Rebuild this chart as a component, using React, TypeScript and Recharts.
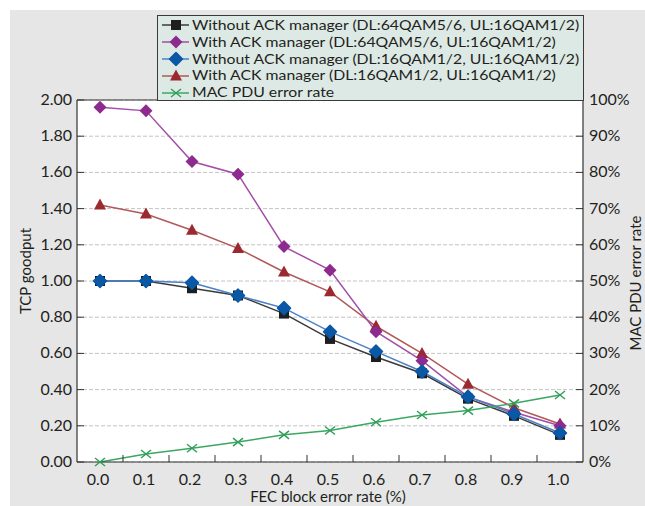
import React from 'react';
import { LineChart, Line, XAxis, YAxis, CartesianGrid, ReferenceLine, Label } from 'recharts';

const categories = ['0.0', '0.1', '0.2', '0.3', '0.4', '0.5', '0.6', '0.7', '0.8', '0.9', '1.0'];
const withoutAck64 = [1.0, 1.0, 0.96, 0.92, 0.82, 0.68, 0.58, 0.49, 0.35, 0.255, 0.15];
const withAck64 = [1.96, 1.94, 1.66, 1.59, 1.19, 1.06, 0.72, 0.56, 0.36, 0.275, 0.2];
const withoutAck16 = [1.0, 1.0, 0.99, 0.92, 0.85, 0.72, 0.61, 0.5, 0.36, 0.265, 0.16];
const withAck16 = [1.42, 1.37, 1.28, 1.18, 1.05, 0.94, 0.75, 0.6, 0.43, 0.3, 0.21];
const macPduErrorRate = [0.0, 0.022, 0.038, 0.055, 0.075, 0.087, 0.11, 0.13, 0.142, 0.162, 0.185];
const leftTicks = [0, 0.2, 0.4, 0.6, 0.8, 1.0, 1.2, 1.4, 1.6, 1.8, 2.0];
const rightTicks = [0, 0.1, 0.2, 0.3, 0.4, 0.5, 0.6, 0.7, 0.8, 0.9, 1.0];

const seriesNames = [
  'Without ACK manager (DL:64QAM5/6, UL:16QAM1/2)',
  'With ACK manager (DL:64QAM5/6, UL:16QAM1/2)',
  'Without ACK manager (DL:16QAM1/2, UL:16QAM1/2)',
  'With ACK manager (DL:16QAM1/2, UL:16QAM1/2)',
  'MAC PDU error rate',
];

const data = categories.map((c, i) => ({
  x: c,
  s0: withoutAck64[i],
  s1: withAck64[i],
  s2: withoutAck16[i],
  s3: withAck16[i],
  s4: macPduErrorRate[i],
}));

const FONT = 'Lato, "Open Sans", sans-serif';
const TEXT = '#231f20';

const C = {
  s0: { line: '#3a3a3a', mark: '#1e1e1e' },
  s1: { line: '#a24ea6', mark: '#8c2a90' },
  s2: { line: '#4a80c6', mark: '#0a58a6' },
  s3: { line: '#b25858', mark: '#9a2a30' },
  s4: { line: '#3aa862', mark: '#2e9e58' },
};

function marker(kind: string, cx: number, cy: number, key?: string) {
  if (kind === 's0') return <rect key={key} x={cx - 5} y={cy - 5} width={10} height={10} fill={C.s0.mark} />;
  if (kind === 's1') return <polygon key={key} points={`${cx},${cy - 6.5} ${cx + 6.5},${cy} ${cx},${cy + 6.5} ${cx - 6.5},${cy}`} fill={C.s1.mark} />;
  if (kind === 's2') return <polygon key={key} points={`${cx},${cy - 6.5} ${cx + 6.5},${cy} ${cx},${cy + 6.5} ${cx - 6.5},${cy}`} fill={C.s2.mark} stroke={C.s2.mark} strokeWidth={1.5} strokeLinejoin="round" />;
  if (kind === 's3') return <polygon key={key} points={`${cx},${cy - 6.5} ${cx + 6},${cy + 4.5} ${cx - 6},${cy + 4.5}`} fill={C.s3.mark} />;
  return (
    <g key={key} stroke={C.s4.mark} strokeWidth={1.4}>
      <line x1={cx - 5} y1={cy - 4} x2={cx + 5} y2={cy + 4} />
      <line x1={cx - 5} y1={cy + 4} x2={cx + 5} y2={cy - 4} />
    </g>
  );
}

const dotFor = (kind: string) => (p: any) => {
  if (p.cx == null || p.cy == null || p.value == null) return <g key={`${kind}-${p.index}`} />;
  return marker(kind, p.cx, p.cy, `${kind}-${p.index}`);
};

const LeftTick = (p: any) => {
  const { x, y, payload } = p;
  return (
    <g>
      <line x1={x} y1={y} x2={x + 7} y2={y} stroke="#333" strokeWidth={1} />
      <text x={x - 5} y={y} dy={5} textAnchor="end" fill={TEXT} fontSize={16} fontFamily={FONT}>
        {Number(payload.value).toFixed(2)}
      </text>
    </g>
  );
};

const RightTick = (p: any) => {
  const { x, y, payload } = p;
  return (
    <g>
      <line x1={x} y1={y} x2={x - 7} y2={y} stroke="#333" strokeWidth={1} />
      <text x={x + 6} y={y} dy={5} textAnchor="start" fill={TEXT} fontSize={16} fontFamily={FONT}>
        {`${Math.round(Number(payload.value) * 100)}%`}
      </text>
    </g>
  );
};

const BottomTick = (p: any) => {
  const { x, y, payload, index } = p;
  const half = payload && payload.offset ? payload.offset : 23;
  return (
    <g>
      {index < categories.length - 1 && (
        <line x1={x + half} y1={y} x2={x + half} y2={y - 7} stroke="#333" strokeWidth={1} />
      )}
      <text x={x - 2} y={y} dy={23} textAnchor="middle" fill={TEXT} fontSize={16} fontFamily={FONT}>
        {payload.value}
      </text>
    </g>
  );
};

const LegendIcon = ({ kind }: { kind: string }) => (
  <svg width={34} height={14} style={{ display: 'block', flex: '0 0 auto' }}>
    <line x1={4} y1={7} x2={31} y2={7} stroke={(C as any)[kind].line} strokeWidth={1.5} />
    {marker(kind, 18, 7)}
  </svg>
);

export default function App() {
  const kinds = ['s0', 's1', 's2', 's3', 's4'];
  return (
    <div style={{ position: 'absolute', left: 0, top: 0, width: 645, height: 506, overflow: 'hidden', background: '#fff' }}>
      <div style={{ position: 'absolute', left: 10, top: 10, width: 635, height: 496, background: '#e6e6e6' }} />
      <div style={{ position: 'absolute', left: 0, top: 0 }}>
        <LineChart width={645} height={506} data={data} margin={{ top: 100, right: 0, bottom: 0, left: 0 }}>
          <CartesianGrid yAxisId="left" vertical={false} horizontal stroke="#c4c4c4" strokeDasharray="4 2" fill="#ffffff" />
          <XAxis
            dataKey="x"
            type="category"
            scale="band"
            height={44}
            interval={0}
            tickSize={0}
            tickMargin={0}
            tickLine={false}
            axisLine={{ stroke: '#333', strokeWidth: 1.2 }}
            tick={<BottomTick />}
          >
            <Label
              content={(lp: any) => {
                const vb = lp.viewBox || { x: 77, y: 462, width: 506, height: 44 };
                return (
                  <text x={vb.x + vb.width / 2 - 2} y={vb.y + 40} textAnchor="middle" fill={TEXT} fontSize={15} fontFamily={FONT}>
                    FEC block error rate (%)
                  </text>
                );
              }}
            />
          </XAxis>
          <YAxis
            yAxisId="left"
            orientation="left"
            width={77}
            domain={[0, 2]}
            ticks={leftTicks}
            interval={0}
            tickSize={0}
            tickMargin={0}
            tickLine={false}
            axisLine={{ stroke: '#333', strokeWidth: 1.2 }}
            tick={<LeftTick />}
          >
            <Label
              content={(lp: any) => {
                const vb = lp.viewBox || { x: 0, y: 100, width: 77, height: 362 };
                const cx = vb.x + 25;
                const cy = vb.y + vb.height / 2 - 10;
                return (
                  <text x={cx} y={cy} transform={`rotate(-90 ${cx} ${cy})`} textAnchor="middle" dominantBaseline="central" fill={TEXT} fontSize={15} fontFamily={FONT}>
                    TCP goodput
                  </text>
                );
              }}
            />
          </YAxis>
          <YAxis
            yAxisId="right"
            orientation="right"
            width={62}
            domain={[0, 1]}
            ticks={rightTicks}
            interval={0}
            tickSize={0}
            tickMargin={0}
            tickLine={false}
            axisLine={{ stroke: '#333', strokeWidth: 1.2 }}
            tick={<RightTick />}
          >
            <Label
              content={(lp: any) => {
                const vb = lp.viewBox || { x: 583, y: 100, width: 62, height: 362 };
                const cx = vb.x + 52;
                const cy = vb.y + vb.height / 2 + 2;
                return (
                  <text x={cx} y={cy} transform={`rotate(-90 ${cx} ${cy})`} textAnchor="middle" dominantBaseline="central" fill={TEXT} fontSize={15} fontFamily={FONT}>
                    MAC PDU error rate
                  </text>
                );
              }}
            />
          </YAxis>
          <ReferenceLine yAxisId="left" y={2} stroke="#333" strokeWidth={1.2} />
          <Line yAxisId="left" type="linear" dataKey="s3" name={seriesNames[3]} stroke={C.s3.line} strokeWidth={1.5} dot={dotFor('s3')} activeDot={false} isAnimationActive={false} />
          <Line yAxisId="left" type="linear" dataKey="s0" name={seriesNames[0]} stroke={C.s0.line} strokeWidth={1.5} dot={dotFor('s0')} activeDot={false} isAnimationActive={false} />
          <Line yAxisId="left" type="linear" dataKey="s1" name={seriesNames[1]} stroke={C.s1.line} strokeWidth={1.5} dot={dotFor('s1')} activeDot={false} isAnimationActive={false} />
          <Line yAxisId="left" type="linear" dataKey="s2" name={seriesNames[2]} stroke={C.s2.line} strokeWidth={1.5} dot={dotFor('s2')} activeDot={false} isAnimationActive={false} />
          <Line yAxisId="right" type="linear" dataKey="s4" name={seriesNames[4]} stroke={C.s4.line} strokeWidth={1.5} dot={dotFor('s4')} activeDot={false} isAnimationActive={false} />
        </LineChart>
      </div>
      <div
        style={{
          position: 'absolute',
          left: 157,
          top: 15,
          width: 427,
          height: 86,
          boxSizing: 'border-box',
          border: '1px solid #3a3a3a',
          background: '#dde9e5',
          paddingTop: 1,
          fontFamily: FONT,
          fontSize: 15.8,
          color: TEXT,
        }}
      >
        {kinds.map((k, i) => (
          <div key={k} style={{ display: 'flex', alignItems: 'center', height: 16.8, lineHeight: '16.8px', whiteSpace: 'nowrap' }}>
            <LegendIcon kind={k} />
            <span style={{ display: 'inline-block', lineHeight: '16.8px', transform: 'scaleY(0.87)', transformOrigin: '50% 50%' }}>{seriesNames[i]}</span>
          </div>
        ))}
      </div>
    </div>
  );
}
